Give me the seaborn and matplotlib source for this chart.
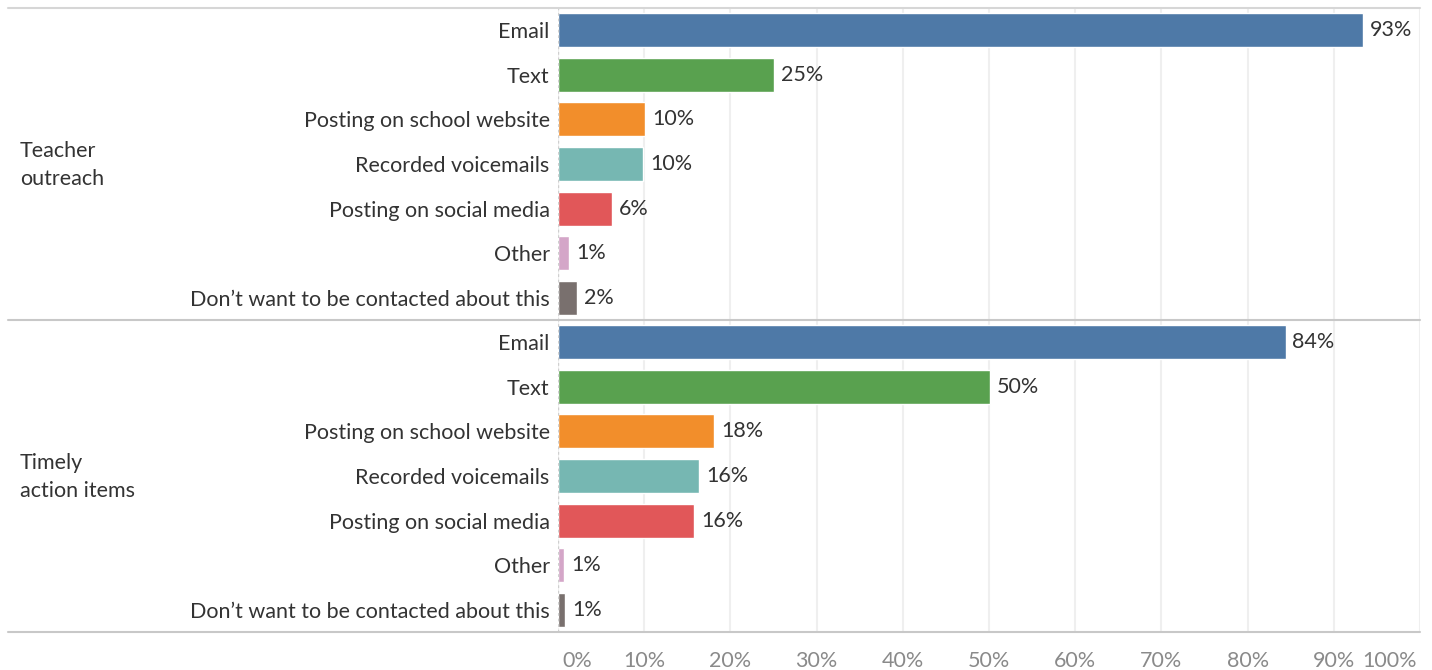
import matplotlib
matplotlib.use("Agg")
import matplotlib.pyplot as plt
import matplotlib.transforms as mtransforms
import numpy as np
import pandas as pd
import seaborn as sns

# Survey shares (%) of preferred contact channels, by communication purpose
groups = ["Teacher\noutreach", "Timely\naction items"]
channels = [
    "Email",
    "Text",
    "Posting on school website",
    "Recorded voicemails",
    "Posting on social media",
    "Other",
    "Don\u2019t want to be contacted about this",
]
teacher_outreach = [93.4, 25.1, 10.1, 9.9, 6.3, 1.3, 2.2]
timely_action_items = [84.4, 50.1, 18.1, 16.4, 15.8, 0.7, 0.8]
x_ticks = [0, 10, 20, 30, 40, 50, 60, 70, 80, 90, 100]
x_tick_labels = [f"{t}%" for t in x_ticks]

colors = ["#4e79a7", "#59a14f", "#f28e2b", "#76b7b2", "#e15759", "#d4a6c8", "#79706e"]
palette = dict(zip(channels, colors))

rows = []
for g, vals in zip(groups, [teacher_outreach, timely_action_items]):
    for c, v in zip(channels, vals):
        rows.append({"group": g, "channel": c, "row": f"{g}|{c}", "pct": v})
df = pd.DataFrame(rows)
order = list(df["row"])

sns.set_theme(style="white")
plt.rcParams["font.family"] = ["Lato", "DejaVu Sans"]

TEXT = "#333333"
FS = 15.5

W, H = 1432, 670
fig = plt.figure(figsize=(W / 100, H / 100), dpi=100)
ax = fig.add_axes([558 / W, 1 - 632 / H, (1420 - 558) / W, (632 - 8) / H])

sns.barplot(
    data=df, x="pct", y="row", hue="channel", palette=palette,
    order=order, dodge=False, legend=False, width=0.76, ax=ax,
    saturation=1,
)

ax.set_xlim(0, 100)
ax.set_ylim(len(order) - 0.5, -0.5)
ax.set_xlabel("")
ax.set_ylabel("")
for s in ax.spines.values():
    s.set_visible(False)

ax.set_yticks(range(len(order)))
ax.set_yticklabels(list(df["channel"]), fontsize=FS, color=TEXT)
ax.tick_params(axis="y", length=0, pad=6)
ax.set_xticks(x_ticks)
ax.set_xticklabels(x_tick_labels, fontsize=15.5, color="#8a8a8a")
ax.tick_params(axis="x", length=6, width=1.5, color="#efefef", pad=8)

# keep the end labels inside the plot span
xlabels = ax.get_xticklabels()
xlabels[0].set_horizontalalignment("left")
xlabels[0].set_transform(xlabels[0].get_transform()
                         + mtransforms.ScaledTranslation(4 / 100, 0, fig.dpi_scale_trans))
xlabels[-1].set_horizontalalignment("right")
xlabels[-1].set_transform(xlabels[-1].get_transform()
                          + mtransforms.ScaledTranslation(-3 / 100, 0, fig.dpi_scale_trans))

ax.grid(axis="x", color="#efefef", linewidth=1.5)
ax.grid(axis="y", visible=False)
ax.set_axisbelow(True)
ax.axvline(0, color="#cfcfcf", linewidth=1, linestyle=(0, (2, 2)), zorder=1)

# value labels at the end of each bar
for i, v in enumerate(df["pct"]):
    ax.annotate(f"{round(v)}%", xy=(v, i), xytext=(5, 0), textcoords="offset points",
                va="center", ha="left", fontsize=FS, color=TEXT)

# header/separator/footer rules spanning the label column and plot
trans = mtransforms.blended_transform_factory(fig.transFigure, ax.transData)
n = len(channels)
for y, col in [(-0.5, "#d6d6d6"), (n - 0.5, "#c8c8c8"), (2 * n - 0.5, "#c8c8c8")]:
    ax.plot([8 / W, 1420 / W], [y, y], transform=trans, color=col,
            linewidth=1.5, clip_on=False, zorder=5)

# group labels
for k, g in enumerate(groups):
    ax.text(20 / W, k * n + (n - 1) / 2 + 0.03, g, transform=trans, ha="left",
            va="center", fontsize=FS, color=TEXT, linespacing=1.5)

fig.savefig("out.png", dpi=100)
